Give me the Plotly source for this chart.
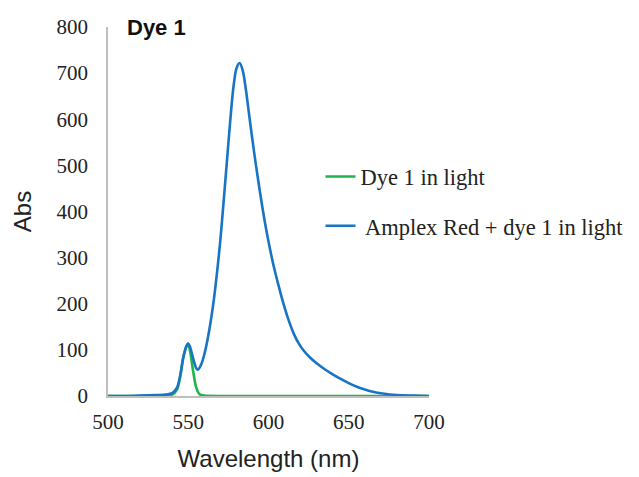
import plotly.graph_objects as go

# Wavelengths (nm) and absorbance readings
wl_dye = [500, 520, 530, 536, 540, 543, 545, 547, 549, 550, 551, 553, 555, 557, 560, 570, 600, 650, 700]
abs_dye = [0, 0, 0, 1, 3, 14, 42, 85, 108, 110, 100, 55, 18, 4, 1, 0, 0, 0, 0]

wl_mix = [500, 510, 520, 530, 536, 540, 543, 545, 547, 549, 550, 551, 553, 555, 556, 558, 560, 562,
          564, 566, 568, 570, 572, 574, 576, 578, 580, 582, 584, 586, 588, 590, 592, 594, 596, 598, 600,
          603, 606, 609, 612, 616, 619, 622, 626, 630, 635, 640, 645, 650, 655, 660, 665, 670, 680, 690, 700]
abs_mix = [0, 0, 1, 2, 3, 6, 18, 45, 85, 110, 114, 108, 82, 60, 57, 68, 90, 122,
           162, 210, 270, 338, 420, 505, 590, 665, 710, 722, 705, 662, 608, 555, 505, 458, 413, 372, 335,
           285, 243, 204, 170, 133, 113, 98, 83, 71, 58, 47, 37, 28, 20, 14, 9, 6, 2, 1, 0]

x_ticks = [500, 550, 600, 650, 700]
y_ticks = [0, 100, 200, 300, 400, 500, 600, 700, 800]

GREEN = "#1FB44B"
BLUE = "#1874C4"

fig = go.Figure()
fig.add_trace(go.Scatter(x=wl_dye, y=abs_dye, mode="lines", name="Dye 1 in light",
                         legendgroup="a", line=dict(color=GREEN, width=2.6, shape="spline", smoothing=0.8)))
fig.add_trace(go.Scatter(x=wl_mix, y=abs_mix, mode="lines", name=" Amplex Red + dye 1 in light",
                         legendgroup="b", line=dict(color=BLUE, width=2.6, shape="spline", smoothing=0.8)))

serif = "Liberation Serif, Times New Roman, serif"
sans = "Liberation Sans, Arial, sans-serif"

fig.update_layout(
    width=631, height=469,
    margin=dict(l=100, r=210, t=19, b=81, autoexpand=False),
    plot_bgcolor="white", paper_bgcolor="white",
    showlegend=True,
    legend=dict(x=0.662, y=0.652, xanchor="left", yanchor="top",
                font=dict(family=serif, size=22.5, color="#222"),
                bgcolor="rgba(0,0,0,0)", tracegroupgap=17, itemwidth=30),
    xaxis=dict(range=[500, 700], tickvals=x_ticks, showgrid=False, zeroline=False,
               showline=True, linecolor="#BFBFBF", linewidth=1.5,
               ticks="outside", ticklen=6, tickcolor="rgba(0,0,0,0)",
               tickfont=dict(family=serif, size=21, color="#222"),
               title=dict(text="Wavelength (nm)", font=dict(family=sans, size=24, color="#222"), standoff=17),
               automargin=False),
    yaxis=dict(range=[0, 800], tickvals=y_ticks, showgrid=False, zeroline=False,
               showline=True, linecolor="#BFBFBF", linewidth=1.5,
               ticks="outside", ticklen=14, tickcolor="rgba(0,0,0,0)",
               tickfont=dict(family=serif, size=21, color="#222"),
               title=dict(text="Abs", font=dict(family=sans, size=24, color="#222"), standoff=18),
               automargin=False),
    annotations=[dict(text="<b>Dye 1</b>", x=(125 - 108) / 321, y=1.0, xref="paper", yref="paper",
                      xanchor="left", yanchor="middle", showarrow=False,
                      font=dict(family=sans, size=22, color="#111"))],
)

fig.write_html("out.html")
